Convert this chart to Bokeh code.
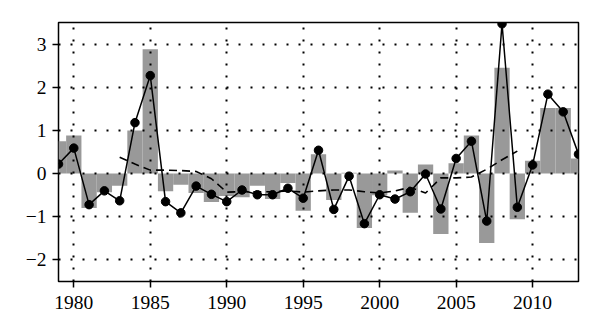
from bokeh.plotting import figure
from bokeh.embed import file_html
from bokeh.resources import INLINE
from bokeh.models import FixedTicker, Range1d

years = list(range(1979, 2014))
bar_values = [0.75, 0.88, -0.80, -0.43, -0.28, 1.00, 2.88, -0.41, -0.26, -0.45,
              -0.66, -0.52, -0.55, -0.28, -0.59, -0.22, -0.86, 0.45, -0.61, 0.02,
              -1.26, -0.50, 0.07, -0.91, 0.21, -1.40, 0.24, 0.88, -1.61, 2.45,
              -1.06, 0.30, 1.52, 1.52, 0.35]
line_values = [0.22, 0.59, -0.72, -0.40, -0.63, 1.18, 2.27, -0.65, -0.91, -0.29,
               -0.48, -0.65, -0.38, -0.49, -0.49, -0.34, -0.57, 0.54, -0.83, -0.06,
               -1.16, -0.49, -0.59, -0.42, -0.01, -0.82, 0.35, 0.75, -1.10, 3.47,
               -0.78, 0.20, 1.84, 1.43, 0.45]
ma_years = list(range(1983, 2010))
ma_values = [0.38, 0.22, 0.08, 0.08, 0.07, 0.05, -0.12, -0.43, -0.42, -0.42,
             -0.42, -0.40, -0.43, -0.40, -0.38, -0.38, -0.42, -0.45, -0.40, -0.32,
             -0.45, -0.10, -0.10, -0.08, 0.10, 0.32, 0.52]

x_ticks = [1980, 1985, 1990, 1995, 2000, 2005, 2010]
y_ticks = [-2, -1, 0, 1, 2, 3]
y_tick_labels = ["\u22122", "\u22121", "0", "1", "2", "3"]

FONT = "Liberation Serif"

p = figure(width=592, height=324, output_backend="svg", toolbar_location=None,
           x_range=Range1d(1979, 2013), y_range=Range1d(-2.5, 3.5),
           min_border_left=58, min_border_right=14, min_border_top=22,
           min_border_bottom=43)

p.vbar(x=years, top=bar_values, bottom=0, width=1.0,
       fill_color="#999999", line_color=None)
p.line(ma_years, ma_values, line_color="black", line_width=1.6, line_dash="8 5")
p.line(years, line_values, line_color="black", line_width=1.5)
p.scatter(years, line_values, size=8.5, fill_color="black", line_color="black")

p.outline_line_color = "black"
p.outline_line_width = 1.5
p.outline_line_alpha = 1.0

for ax in (p.xaxis[0], p.yaxis[0]):
    ax.axis_line_color = None
    ax.major_tick_line_color = "black"
    ax.major_tick_line_width = 1.5
    ax.major_tick_out = 6
    ax.major_tick_in = 0
    ax.minor_tick_line_color = None
    ax.major_label_text_font = FONT
    ax.major_label_text_font_size = "19.5px"
    ax.major_label_text_color = "black"
    ax.major_label_standoff = 6
p.xaxis[0].major_label_standoff = 8

p.xaxis[0].ticker = FixedTicker(ticks=x_ticks)
p.yaxis[0].ticker = FixedTicker(ticks=y_ticks)
p.yaxis[0].major_label_overrides = {t: s for t, s in zip(y_ticks, y_tick_labels)}

for g in (p.xgrid[0], p.ygrid[0]):
    g.grid_line_color = "black"
    g.grid_line_width = 2
    g.grid_line_dash = "2 10"
    g.grid_line_alpha = 1.0
    g.level = "overlay"
p.xgrid[0].ticker = FixedTicker(ticks=x_ticks)
p.ygrid[0].ticker = FixedTicker(ticks=y_ticks)

open("out.html", "w").write(file_html(p, INLINE))
